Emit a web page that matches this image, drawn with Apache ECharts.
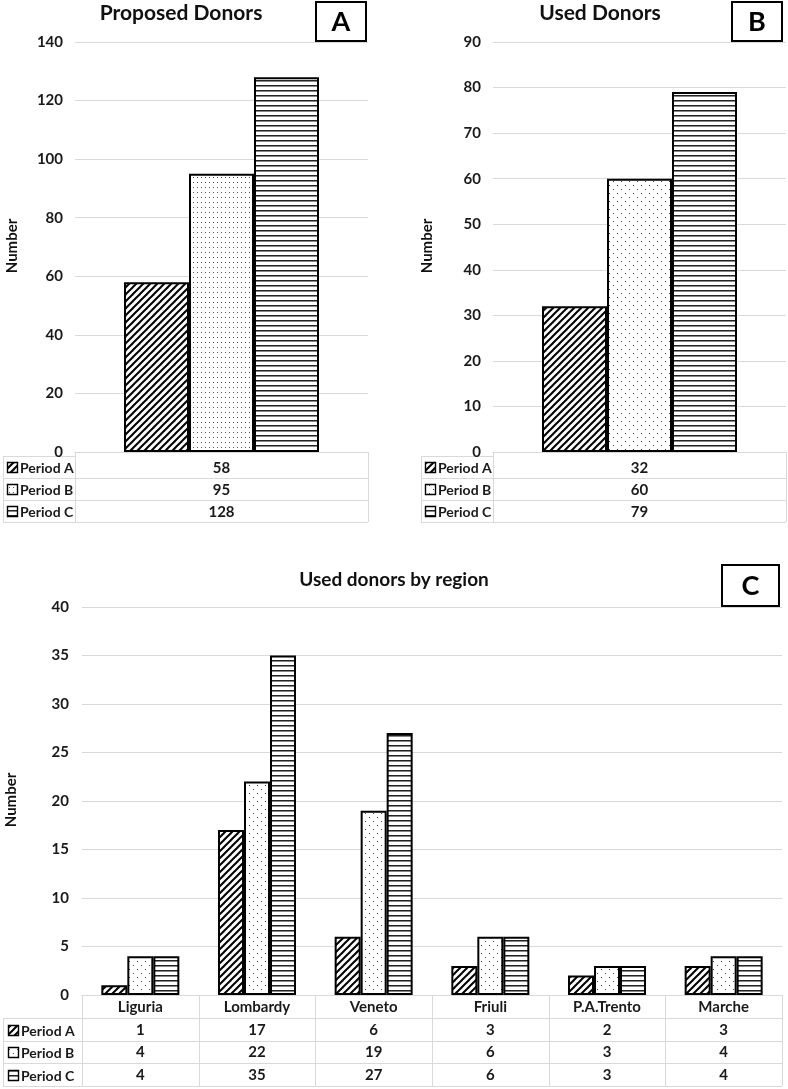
<!DOCTYPE html>
<html><head><meta charset="utf-8">
<script src="https://cdn.jsdelivr.net/npm/echarts@6/dist/echarts.min.js"></script>
<style>html,body{margin:0;padding:0;background:#fff}#c{width:788px;height:1089px}</style>
</head><body><div id="c"></div>
<script>
// ---------- data ----------
const periods = ['Period A', 'Period B', 'Period C'];
const totalCategory = ['Total'];
const proposedDonors = [58, 95, 128];
const usedDonors = [32, 60, 79];
const regions = ['Liguria', 'Lombardy', 'Veneto', 'Friuli', 'P.A.Trento', 'Marche'];
const regionPeriodA = [1, 17, 6, 3, 2, 3];
const regionPeriodB = [4, 22, 19, 6, 3, 4];
const regionPeriodC = [4, 35, 27, 6, 3, 4];
const regionByPeriod = [regionPeriodA, regionPeriodB, regionPeriodC];
const titles = ['Proposed Donors', 'Used Donors', 'Used donors by region'];
const panelLetters = ['A', 'B', 'C'];
const yAxisName = 'Number';
const yScaleA = { max: 140, interval: 20 };
const yScaleB = { max: 90, interval: 10 };
const yScaleC = { max: 40, interval: 5 };

// ---------- patterns ----------
const FONT = 'Lato, "Open Sans", sans-serif';
function makeCanvas(w, h, draw) {
  const c = document.createElement('canvas'); c.width = w; c.height = h;
  const g = c.getContext('2d'); g.fillStyle = '#fff'; g.fillRect(0, 0, w, h); draw(g, w, h); return c;
}
const diagPat = makeCanvas(7, 7, (g, s) => {
  g.strokeStyle = '#000'; g.lineWidth = 2;
  for (const k of [-s, 0, s]) { g.beginPath(); g.moveTo(k - 1, s + 1); g.lineTo(k + s + 1, -1); g.stroke(); }
});
const dotPatDense = makeCanvas(4, 5, (g) => { g.fillStyle = '#555'; g.fillRect(1, 2, 1, 1); });
const dotPatSparse = makeCanvas(8, 8, (g) => { g.fillStyle = '#444'; g.fillRect(1, 1, 1, 1); g.fillRect(5, 5, 1, 1); });
const hLinePat = makeCanvas(4, 5, (g) => { g.fillStyle = '#222'; g.fillRect(0, 0, 4, 1); g.fillStyle = '#888'; g.fillRect(0, 1, 4, 1); });
const patA = [diagPat, dotPatDense, hLinePat];
const patBC = [diagPat, dotPatSparse, hLinePat];
const fill = (img) => ({ image: img, repeat: 'repeat' });

const chart = echarts.init(document.getElementById('c'), null, { renderer: 'canvas' });

const grids = [
  { left: 75, top: 42, width: 293, height: 410 },
  { left: 493, top: 42, width: 293, height: 410 },
  { left: 82, top: 607, width: 700, height: 388 }
];
function xAx(i, data) {
  return { gridIndex: i, type: 'category', data: data,
    axisLine: { show: true, lineStyle: { color: '#d9d9d9', width: 1 } },
    axisTick: { show: false }, axisLabel: { show: false } };
}
function yAx(i, sc, margin) {
  return { gridIndex: i, type: 'value', min: 0, max: sc.max, interval: sc.interval,
    axisLine: { show: false }, axisTick: { show: false },
    splitLine: { lineStyle: { color: '#d9d9d9', width: 1 } },
    axisLabel: { margin: margin, fontFamily: FONT, fontWeight: 'bold', fontSize: 15, color: '#1a1a1a' } };
}
const series = [];
periods.forEach((p, k) => {
  series.push({ type: 'bar', name: p, xAxisIndex: 0, yAxisIndex: 0, data: [proposedDonors[k]],
    barWidth: 65, barGap: '0%', itemStyle: { color: fill(patA[k]), borderColor: '#000', borderWidth: 2 } });
});
periods.forEach((p, k) => {
  series.push({ type: 'bar', name: p, xAxisIndex: 1, yAxisIndex: 1, data: [usedDonors[k]],
    barWidth: 65, barGap: '0%', itemStyle: { color: fill(patBC[k]), borderColor: '#000', borderWidth: 2 } });
});
periods.forEach((p, k) => {
  series.push({ type: 'bar', name: p, xAxisIndex: 2, yAxisIndex: 2, data: regionByPeriod[k],
    barWidth: 26, barGap: '0%', itemStyle: { color: fill(patBC[k]), borderColor: '#000', borderWidth: 2 } });
});

chart.setOption({
  animation: false,
  backgroundColor: '#fff',
  grid: grids,
  xAxis: [xAx(0, totalCategory), xAx(1, totalCategory), xAx(2, regions)],
  yAxis: [yAx(0, yScaleA, 12), yAx(1, yScaleB, 12), yAx(2, yScaleC, 13)],
  series: series
});

// ---------- graphics: titles, boxes, tables ----------
const G = [];
const LC = '#d9d9d9';
function hLine(x1, x2, y) { G.push({ type: 'line', silent: true, shape: { x1: x1, y1: y + 0.5, x2: x2, y2: y + 0.5 }, style: { stroke: LC, lineWidth: 1 } }); }
function vLine(x, y1, y2) { G.push({ type: 'line', silent: true, shape: { x1: x + 0.5, y1: y1, x2: x + 0.5, y2: y2 }, style: { stroke: LC, lineWidth: 1 } }); }
function txt(x, y, s, o) {
  o = o || {};
  G.push({ type: 'text', x: x, y: y, rotation: o.rot || 0, silent: true,
    style: { text: s, fill: o.color || '#1a1a1a', font: (o.weight || 'bold') + ' ' + (o.size || 14) + 'px ' + FONT,
      align: o.align || 'center', verticalAlign: 'middle' } });
}
function box(x, y, w, h, letter) {
  G.push({ type: 'rect', shape: { x: x, y: y, width: w, height: h }, style: { fill: '#fff', stroke: '#000', lineWidth: 2 } });
  txt(x + w / 2, y + h / 2 + 1, letter, { size: 27, color: '#000' });
}
function legendSym(x, y, img) {
  G.push({ type: 'rect', shape: { x: x + 0.5, y: y - 4.5, width: 10, height: 10 }, style: { fill: fill(img), stroke: '#000', lineWidth: 1.4 } });
}

// titles & letter boxes
txt(181, 13, titles[0], { size: 21, color: '#111' });
txt(600, 13, titles[1], { size: 21, color: '#111' });
txt(394, 580, titles[2], { size: 19, color: '#111' });
box(316, 2, 50, 39, panelLetters[0]);
box(732, 2, 50, 39, panelLetters[1]);
box(722, 565, 57, 41, panelLetters[2]);

// axis names
txt(12, 246, yAxisName, { rot: Math.PI / 2, size: 15, color: '#111' });
txt(427, 246, yAxisName, { rot: Math.PI / 2, size: 15, color: '#111' });
txt(11, 800, yAxisName, { rot: Math.PI / 2, size: 15, color: '#111' });

// small tables (A & B)
function smallTable(gi, leftX, values, pats) {
  const g = grids[gi];
  const pl = g.left, pr = g.left + g.width;
  const cx = chart.convertToPixel({ xAxisIndex: gi }, totalCategory[0]);
  const rowLines = [478, 500, 522];
  hLine(leftX, pl, 456);
  rowLines.forEach(y => hLine(leftX, pr, y));
  vLine(leftX, 456, 522); vLine(pl, 452, 522); vLine(pr, 452, 522);
  const rowMid = [467, 489, 511];
  periods.forEach((p, k) => {
    legendSym(leftX + 4, rowMid[k], pats[k]);
    txt(leftX + 17, rowMid[k] + 1, p, { align: 'left', size: 14 });
    txt(cx, rowMid[k] + 1, String(values[k]), { size: 15 });
  });
}
smallTable(0, 3, proposedDonors, patA);
smallTable(1, 421, usedDonors, patBC);

// region table (C)
(function () {
  const g = grids[2];
  const pl = g.left, pr = g.left + g.width;
  const c0 = chart.convertToPixel({ xAxisIndex: 2 }, regions[0]);
  const c1 = chart.convertToPixel({ xAxisIndex: 2 }, regions[1]);
  const band = c1 - c0;
  const top = 995, rowLines = [1018, 1041, 1063, 1086];
  const leftX = 3;
  rowLines.forEach((y, i) => hLine(i === 0 ? leftX : pl, pr, y));
  rowLines.forEach((y) => hLine(leftX, pl, y));
  hLine(pl, pr, top);
  vLine(leftX, 1018, 1086);
  regions.forEach((r, i) => {
    const cx = chart.convertToPixel({ xAxisIndex: 2 }, r);
    vLine(Math.round(cx - band / 2), top, 1086);
    txt(cx, 1007, r, { size: 15 });
    regionByPeriod.forEach((arr, k) => txt(cx, [1030, 1052, 1075][k], String(arr[i]), { size: 15 }));
  });
  vLine(pr, top, 1086);
  const rowMid = [1030, 1052, 1075];
  periods.forEach((p, k) => {
    legendSym(leftX + 5, rowMid[k], patBC[k]);
    txt(leftX + 18, rowMid[k] + 1, p, { align: 'left', size: 14 });
  });
})();

chart.setOption({ graphic: G });
</script>
</body></html>
